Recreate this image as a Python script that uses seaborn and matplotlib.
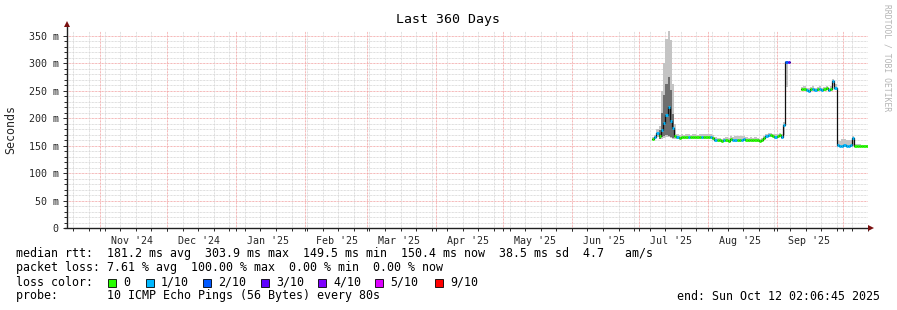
import numpy as np
import pandas as pd
import matplotlib
matplotlib.use("Agg")
import matplotlib.pyplot as plt
import matplotlib.dates as mdates
from matplotlib.patches import Rectangle
import seaborn as sns

# ---------------- data ----------------
first_day = "2025-07-07"
median_ms = [
    # Jul 7 .. Jul 31
    163, 166, 174, 167, 178, 192, 206, 220, 195, 182, 167, 165, 164, 165, 166, 165, 166, 165, 166, 165, 165, 166, 165, 166, 165,
    # Aug 1 .. Aug 31
    166, 166, 164, 161, 160, 160, 159, 160, 160, 159, 163, 161, 160, 161, 160, 161, 163, 161, 160, 161, 160, 161, 160, 158, 160, 164, 167, 170, 169, 168, 166,
    # Sep 1 .. Sep 30
    167, 169, 166, 188, 303, 302, np.nan, np.nan, np.nan, np.nan, np.nan, 253, 254, 252, 250, 253, 254, 252, 253, 254, 252, 253, 255, 252, 254, 267, 256, 151, 149, 150,
    # Oct 1 .. Oct 11
    151, 149, 150, 151, 164, 150, 150, 150, 150, 150, 150,
]
smoke_hi_ms = [
    166, 170, 180, 186, 250, 300, 345, 362, 342, 262, 190, 172, 170, 171, 170, 171, 171, 170, 171, 171, 170, 171, 171, 172, 171,
    171, 171, 169, 165, 164, 164, 163, 164, 165, 164, 167, 166, 167, 168, 168, 168, 167, 165, 164, 165, 164, 165, 164, 162, 164, 168, 172, 174, 173, 172, 171,
    171, 173, 171, 194, 305, 305, np.nan, np.nan, np.nan, np.nan, np.nan, 257, 258, 256, 255, 257, 258, 256, 257, 258, 256, 257, 258, 256, 258, 271, 262, 160, 158, 163,
    162, 160, 161, 160, 168, 153, 153, 153, 152, 152, 152,
]
smoke_lo_ms = [
    161, 163, 165, 163, 162, 164, 165, 166, 164, 163, 163, 162, 162, 162, 163, 162, 163, 162, 163, 162, 162, 163, 162, 163, 162,
    163, 163, 161, 158, 158, 157, 157, 157, 157, 157, 159, 158, 157, 158, 157, 158, 159, 158, 157, 158, 157, 158, 157, 156, 157, 161, 164, 166, 165, 165, 163,
    164, 166, 163, 170, 257, 257, np.nan, np.nan, np.nan, np.nan, np.nan, 250, 251, 249, 248, 250, 251, 249, 250, 251, 249, 250, 252, 249, 251, 258, 253, 148, 147, 147,
    148, 147, 148, 148, 149, 148, 148, 148, 148, 148, 148,
]
loss_index = [
    0, 1, 1, 0, 1, 1, 1, 1, 1, 1, 0, 1, 0, 0, 0, 0, 1, 0, 0, 0, 0, 0, 1, 0, 0,
    0, 1, 0, 1, 0, 0, 0, 1, 0, 0, 0, 1, 1, 0, 0, 1, 1, 0, 0, 0, 0, 0, 0, 0, 0, 0, 1, 1, 0, 0, 1,
    0, 0, 1, 1, 2, 3, 0, 0, 0, 0, 0, 0, 0, 1, 1, 0, 1, 1, 0, 1, 1, 0, 0, 1, 0, 1, 1, 1, 1, 1,
    1, 1, 1, 1, 1, 0, 0, 0, 0, 0, 0,
]
core_first_day = "2025-07-10"
core_hi_ms = [178, 210, 242, 262, 276, 252, 208]
core_lo_ms = [163, 165, 168, 170, 168, 166, 164]

y_ticks = [0, 50, 100, 150, 200, 250, 300, 350]
y_tick_labels = ["0", "50 m", "100 m", "150 m", "200 m", "250 m", "300 m", "350 m"]
loss_labels = ["0", "1/10", "2/10", "3/10", "4/10", "5/10", "9/10"]
loss_colors = ["#26ff00", "#00b8ff", "#0059ff", "#5e00ff", "#7e00ff", "#dd00ff", "#ff0000"]

title = "Last 360 Days"
end_time = pd.Timestamp("2025-10-12 02:06:45")
span_days = 360
stats_lines = [
    "median rtt:  181.2 ms avg  303.9 ms max  149.5 ms min  150.4 ms now  38.5 ms sd  4.7   am/s",
    "packet loss: 7.61 % avg  100.00 % max  0.00 % min  0.00 % now",
    "loss color:",
    "probe:       10 ICMP Echo Pings (56 Bytes) every 80s",
]
end_text = "end: Sun Oct 12 02:06:45 2025"

# ---------------- styling ----------------
sns.set_theme(style="white")
plt.rcParams['font.family'] = ['DejaVu Sans Mono', 'DejaVu Sans']

W, H = 897, 310
fig = plt.figure(figsize=(W / 100, H / 100), dpi=100)
fig.patch.set_facecolor("white")
L, R, T, B = 67, 868, 31, 228
ax = fig.add_axes([L / W, 1 - B / H, (R - L) / W, (B - T) / H])
ax.set_facecolor("white")

start_time = end_time - pd.Timedelta(days=span_days)
x0, x1 = mdates.date2num(start_time), mdates.date2num(end_time)
ax.set_xlim(x0, x1)
ax.set_ylim(0, 359)

PX = 0.72  # one pixel in points
dots = (0, (PX, PX))
minor_c = "#d4d4d4"
major_c = "#f2a0a0"

# grid: horizontal
for v in range(10, 360, 10):
    if v % 50 == 0:
        ax.axhline(v, color=major_c, lw=PX, ls=dots, zorder=1)
    else:
        ax.axhline(v, color=minor_c, lw=PX, ls=dots, zorder=1)

# grid: vertical (weeks on Sundays, months in red)
weeks = pd.date_range(start_time.normalize(), end_time, freq="W-SUN")
months = pd.date_range(start_time.normalize(), end_time, freq="MS")
for w in weeks:
    if w.day != 1:
        ax.axvline(mdates.date2num(w), color=minor_c, lw=PX, ls=dots, zorder=1)
for m in months:
    ax.axvline(mdates.date2num(m), color=major_c, lw=PX, ls=dots, zorder=1)

# ---------------- data marks ----------------
days = pd.date_range(first_day, periods=len(median_ms), freq="D")
xd = mdates.date2num(days)
med = np.array(median_ms, dtype=float)
hi = np.array(smoke_hi_ms, dtype=float)
lo = np.array(smoke_lo_ms, dtype=float)
xe = np.r_[xd, xd[-1] + 1]

ax.fill_between(xe, np.r_[lo, lo[-1]], np.r_[hi, hi[-1]], step="post",
                color="#c4c4c4", lw=0, zorder=2)
cdays = mdates.date2num(pd.date_range(core_first_day, periods=len(core_hi_ms), freq="D"))
ax.fill_between(np.r_[cdays, cdays[-1] + 1], np.r_[core_lo_ms, core_lo_ms[-1]],
                np.r_[core_hi_ms, core_hi_ms[-1]], step="post",
                color="#6e6e6e", lw=0, zorder=2.1)

# black median line (seaborn), split at the gap
seg = np.cumsum(np.isnan(med))
df = pd.DataFrame({"t": xd, "v": med, "seg": seg}).dropna()
ends = df.groupby("seg").tail(1).copy()
ends["t"] = ends["t"] + 1
df = pd.concat([df, ends]).sort_values(["seg", "t"])
sns.lineplot(data=df, x="t", y="v", units="seg", estimator=None, sort=False,
             color="#101010", lw=0.9, drawstyle="steps-post", ax=ax,
             legend=False, zorder=3)

ok = ~np.isnan(med)
ax.hlines(med[ok], xd[ok], xd[ok] + 1,
          colors=[loss_colors[k] for k in np.array(loss_index)[ok]],
          lw=2.0, zorder=4)

# ---------------- axes ----------------
for s in ax.spines.values():
    s.set_visible(False)
ax.set_xlabel("")
ax.set_ylabel("Seconds", fontsize=8.4)
ax.yaxis.set_label_coords(-50 / (R - L), 0.5)

ax.set_yticks(y_ticks)
ax.set_yticklabels(y_tick_labels, fontsize=7.2)
ax.set_yticks(range(0, 360, 10), minor=True)
ax.tick_params(axis="y", which="both", direction="out", length=3, width=PX,
               color="#303030", pad=3, left=True)
ax.tick_params(axis="y", which="minor", length=2)

mid_months = [m + pd.Timedelta(days=14, hours=12) for m in months]
mid_months = [m for m in mid_months if start_time < m < end_time]
ax.set_xticks(mdates.date2num(mid_months))
ax.set_xticklabels([m.strftime("%b '%y") for m in mid_months], fontsize=7.2)
ax.set_xticks(np.r_[mdates.date2num(weeks), mdates.date2num(months)], minor=True)
ax.tick_params(axis="x", which="major", length=0, pad=6)
ax.tick_params(axis="x", which="minor", direction="out", length=2, width=PX,
               color="#303030", bottom=True)

# axis lines with arrows
ax.plot([0, 0], [0, 1.03], transform=ax.transAxes, color="#202020", lw=1.0,
        clip_on=False, zorder=6, solid_capstyle="butt")
ax.plot([-0.004, 1.003], [0, 0], transform=ax.transAxes, color="#202020", lw=1.0,
        clip_on=False, zorder=6, solid_capstyle="butt")
ax.plot([0], [1.035], marker="^", ms=4, color="#7a1010", transform=ax.transAxes,
        clip_on=False, zorder=7, mew=0)
ax.plot([1.004], [0], marker=">", ms=4, color="#7a1010", transform=ax.transAxes,
        clip_on=False, zorder=7, mew=0)

# ---------------- texts ----------------
def fx(px):
    return px / W

def fy(py):
    return 1 - py / H

fig.text(fx(448), fy(19), title, ha="center", va="center", fontsize=9.5, color="black")
fig.text(fx(887), fy(4), "RRDTOOL / TOBI OETIKER", rotation=270, ha="center", va="top",
         fontsize=5.8, color="#b4b4b4")

rows_y = [254, 268, 282, 296]
for s, yy in zip(stats_lines, rows_y):
    fig.text(fx(16), fy(yy), s, ha="left", va="center", fontsize=8.4, color="black")
fig.text(fx(880), fy(296), end_text, ha="right", va="center", fontsize=8.4, color="black")

box_x = [108, 146, 203, 261, 318, 375, 435]
for bx, lab, col in zip(box_x, loss_labels, loss_colors):
    fig.patches.append(Rectangle((fx(bx), fy(287)), 8 / W, 8 / H, transform=fig.transFigure,
                                 facecolor=col, edgecolor="black", lw=0.6))
    fig.text(fx(bx + 15), fy(282), lab, ha="left", va="center", fontsize=8.4, color="black")

fig.savefig("out.png", dpi=100, facecolor="white")
